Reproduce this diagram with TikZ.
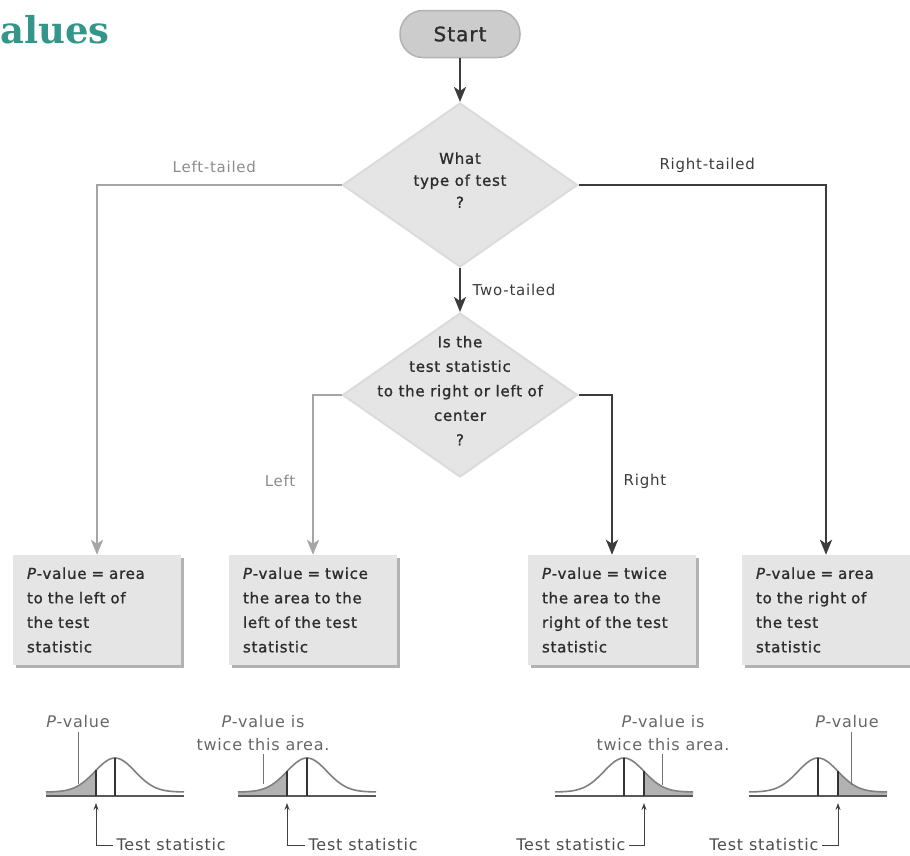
\documentclass[tikz,border=0pt]{standalone}
\usepackage{fontspec}
\setmainfont{DejaVu Sans}[LetterSpace=5]
\newfontfamily\heavyfont{DejaVu Sans}[LetterSpace=5, FakeBold=1.2]
\newfontfamily\titlefont{DejaVu Serif}
\usetikzlibrary{positioning,shapes.geometric,arrows.meta,shadows}

\definecolor{titleteal}{RGB}{52,150,138}
\definecolor{darkline}{RGB}{60,60,60}
\definecolor{lightline}{RGB}{165,165,165}
\definecolor{lightlabel}{RGB}{140,140,140}
\definecolor{inktext}{RGB}{45,45,45}

% text inside a diamond, kept from growing the shape
\newcommand{\dtext}[1]{\makebox[0pt]{\smash{\begin{tabular}{@{}c@{}}#1\end{tabular}}}}

\begin{document}
\begin{tikzpicture}[x=1pt, y=-1pt,
  declare function={bell(\xx,\mm)=792-34*exp(-(\xx-\mm)*(\xx-\mm)/800);},
  startnode/.style={rectangle, rounded corners=23pt, draw=gray!60, line width=1.5pt,
    fill=gray!40, minimum width=120pt, minimum height=47pt,
    font=\heavyfont\fontsize{20}{24}\selectfont, text=inktext},
  decision/.style={diamond, draw=gray!28, line width=2pt, fill=gray!20,
    minimum width=235pt, minimum height=164pt, inner sep=0pt, text=inktext},
  pbox/.style={rectangle, fill=gray!20,
    drop shadow={shadow xshift=3pt, shadow yshift=-3pt, fill=gray!60, opacity=1},
    minimum height=110pt, text width=140pt, inner xsep=14pt, align=left,
    font=\heavyfont\fontsize{15}{24.5}\selectfont, text=inktext},
  darkflow/.style={draw=darkline, line width=2.8pt, -{Stealth[length=15pt,width=12pt,inset=4pt]}},
  lightflow/.style={darkflow, draw=lightline},
  flowlabel/.style={font=\fontsize{15}{18}\selectfont},
  tailfill/.style={fill=gray!60},
  curve/.style={draw=black!50, line width=1.6pt},
  axisline/.style={draw=black!65, line width=1.8pt},
  statline/.style={draw=black!80, line width=1.3pt},
  leader/.style={draw=black!55, line width=1pt},
  statarrow/.style={draw=black!75, line width=1pt, -{Stealth[length=7pt,width=5pt]}},
  curvelabel/.style={text=black!60, font=\fontsize{16}{23}\selectfont},
  tslabel/.style={text=black!70, font=\fontsize{16}{20}\selectfont}
  ]
  \useasboundingbox (0,0) rectangle (910,855);

  \node[anchor=base west, text=titleteal, inner sep=0pt,
  font=\titlefont\bfseries\fontsize{37}{37}\selectfont] (title) at (0,43) {alues};

  \node[startnode] (start) at (460,34) {Start};

  \node[
  decision,
  below of=start,
  node distance=151pt,
  font=\heavyfont\fontsize{15}{22}\selectfont] (q1) {\dtext{What\\type of test\\?}};

  \node[
  decision,
  below of=q1,
  node distance=210pt,
  font=\heavyfont\fontsize{15}{24.5}\selectfont] (q2) {\dtext{Is the\\test statistic\\to the right or left of\\center\\?}};

  \node[pbox] (b1) at (97,610) {\textit{P}-value = area\\to the left of\\the test\\statistic};
  \node[pbox, right of=b1, node distance=216pt] (b2) {\textit{P}-value = twice\\the area to the\\left of the test\\statistic};
  \node[pbox, right of=b2, node distance=299pt] (b3) {\textit{P}-value = twice\\the area to the\\right of the test\\statistic};
  \node[pbox, right of=b3, node distance=214pt] (b4) {\textit{P}-value = area\\to the right of\\the test\\statistic};

  \draw[darkflow] (start) -- (q1);
  \draw[darkflow] (q1) -- (q2)
    node[midway, right, flowlabel, text=darkline, xshift=8pt] {Two-tailed};
  \draw[lightflow] (q1.west) -| (b1)
    node[pos=0.26, above, flowlabel, text=lightlabel, yshift=8pt] {Left-tailed};
  \draw[darkflow] (q1.east) -| (b4)
    node[pos=0.26, above, flowlabel, text=darkline, yshift=8pt] {Right-tailed};
  \draw[lightflow] (q2.west) -| (b2)
    node[pos=0.77, left, flowlabel, text=lightlabel, xshift=-13pt] {Left};
  \draw[darkflow] (q2.east) -| (b3)
    node[pos=0.77, right, flowlabel, text=darkline, xshift=7pt] {Right};

  % left-tailed curve
  \fill[tailfill] (46,796) -- plot[domain=46:96, samples=30] (\x,{bell(\x,115)}) -- (96,796) -- cycle;
  \draw[curve] plot[domain=46:184, samples=80] (\x,{bell(\x,115)});
  \draw[axisline] (46,796) -- (184,796);
  \draw[statline] (115,796) -- (115,{bell(115,115)});
  \draw[statline] (96,796) -- (96,{bell(96,115)});
  \node[curvelabel] (pv1) at (78,722) {\textit{P}-value};
  \coordinate (pa1) at (78,784);
  \draw[leader] (pa1 |- pv1.south) -- (pa1);
  \node[tslabel, anchor=west] (ts1) at (113,845) {Test statistic};
  \coordinate (tp1) at (96,803);
  \draw[statarrow] (ts1) -| (tp1);

  % two-tailed, left of center
  \fill[tailfill] (238,796) -- plot[domain=238:287, samples=30] (\x,{bell(\x,307)}) -- (287,796) -- cycle;
  \draw[curve] plot[domain=238:376, samples=80] (\x,{bell(\x,307)});
  \draw[axisline] (238,796) -- (376,796);
  \draw[statline] (307,796) -- (307,{bell(307,307)});
  \draw[statline] (287,796) -- (287,{bell(287,307)});
  \node[curvelabel, align=center] (pv2) at (263,733) {\textit{P}-value is\\twice this area.};
  \coordinate (pa2) at (263,784);
  \draw[leader] (pa2 |- pv2.south) -- (pa2);
  \node[tslabel, anchor=west] (ts2) at (305,845) {Test statistic};
  \coordinate (tp2) at (287,803);
  \draw[statarrow] (ts2) -| (tp2);

  % two-tailed, right of center
  \fill[tailfill] (644,796) -- plot[domain=644:693, samples=30] (\x,{bell(\x,624)}) -- (693,796) -- cycle;
  \draw[curve] plot[domain=555:693, samples=80] (\x,{bell(\x,624)});
  \draw[axisline] (555,796) -- (693,796);
  \draw[statline] (624,796) -- (624,{bell(624,624)});
  \draw[statline] (644,796) -- (644,{bell(644,624)});
  \node[curvelabel, align=center] (pv3) at (663,733) {\textit{P}-value is\\twice this area.};
  \coordinate (pa3) at (662,785);
  \draw[leader] (pa3 |- pv3.south) -- (pa3);
  \node[tslabel, anchor=east] (ts3) at (629,845) {Test statistic};
  \coordinate (tp3) at (644,803);
  \draw[statarrow] (ts3) -| (tp3);

  % right-tailed curve
  \fill[tailfill] (838,796) -- plot[domain=838:887, samples=30] (\x,{bell(\x,818)}) -- (887,796) -- cycle;
  \draw[curve] plot[domain=749:887, samples=80] (\x,{bell(\x,818)});
  \draw[axisline] (749,796) -- (887,796);
  \draw[statline] (818,796) -- (818,{bell(818,818)});
  \draw[statline] (838,796) -- (838,{bell(838,818)});
  \node[curvelabel] (pv4) at (847,722) {\textit{P}-value};
  \coordinate (pa4) at (851,785);
  \draw[leader] (pa4 |- pv4.south) -- (pa4);
  \node[tslabel, anchor=east] (ts4) at (822,845) {Test statistic};
  \coordinate (tp4) at (838,803);
  \draw[statarrow] (ts4) -| (tp4);
\end{tikzpicture}
\end{document}
